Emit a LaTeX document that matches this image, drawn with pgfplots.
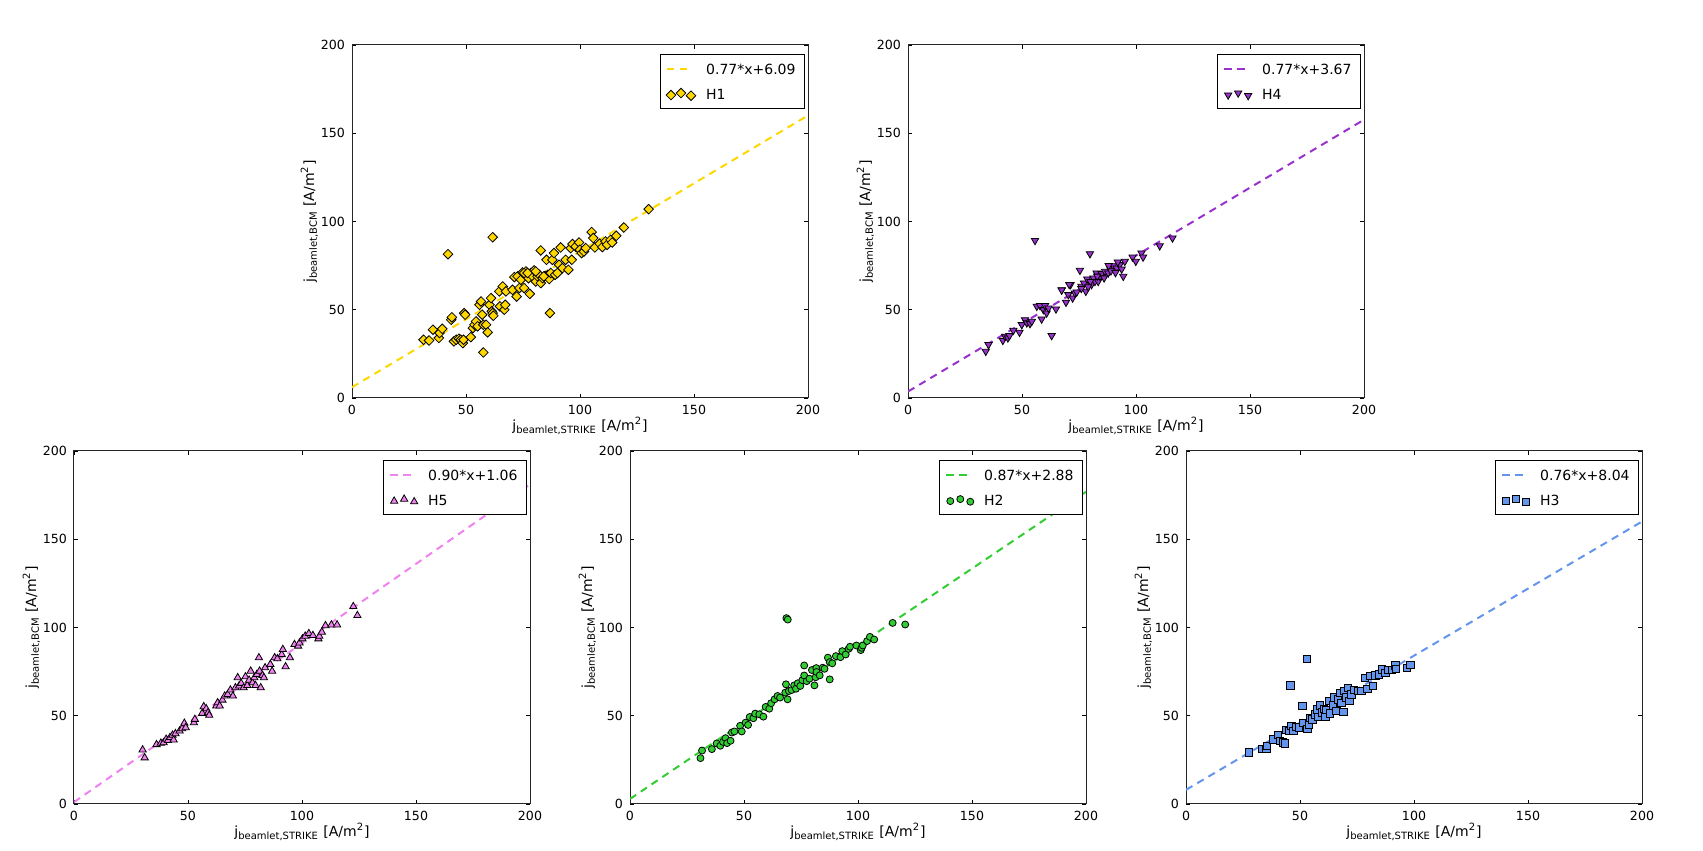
\documentclass[border=0pt]{standalone}
\usepackage{fontspec}
\setmainfont{DejaVu Sans}
\usepackage{pgfplots}
\pgfplotsset{compat=1.18}
\definecolor{cgold}{RGB}{255,215,0}
\definecolor{corchid}{RGB}{153,50,204}
\definecolor{cviolet}{RGB}{238,130,238}
\definecolor{clime}{RGB}{50,205,50}
\definecolor{ccorn}{RGB}{100,149,237}
\pgfplotsset{
 myax/.style={
  width=228pt, height=176.5pt, scale only axis, anchor=south west,
  xmin=0,xmax=200,ymin=0,ymax=200,
  xtick={0,50,...,200}, ytick={0,50,...,200},
  tick align=inside, major tick length=2pt,
  axis line style={line width=0.5pt, black!85},
  every tick/.style={black, line width=0.4pt},
  tick label style={font=\fontsize{6.3}{7}\selectfont},
  /pgf/number format/assume math mode=true,
  xlabel={j\textsubscript{beamlet,STRIKE} [A/m\textsuperscript{2}]},
  ylabel={j\textsubscript{beamlet,BCM} [A/m\textsuperscript{2}]},
  label style={font=\fontsize{7}{8}\selectfont},
  xlabel style={at={(axis description cs:0.5,-0.08)}, anchor=center},
  ylabel style={at={(axis description cs:-0.0936,0.5)}, anchor=center},
  legend cell align=left,
  legend style={at={(0.992,0.9745)}, anchor=north east, draw=black, fill=white,
    font=\fontsize{7}{8}\selectfont, inner xsep=3pt, inner ysep=1.2pt, row sep=1pt,
    nodes={inner sep=1.2pt, text depth=0.2em, text height=0.75em},
    /tikz/every odd column/.append style={column sep=4pt}},
 },
 fitline/.style={line width=1pt, dash pattern=on 3.7pt off 2.8pt, #1,
   legend image code/.code={\draw[##1] (0pt,0pt) -- (11.5pt,0pt);}},
 scat/.style={only marks, mark options={draw=black!75, line width=0.3pt},
   legend image code/.code={\draw[##1] plot[only marks] coordinates {(2pt,-0.3pt) (7pt,0.7pt) (12pt,-0.6pt)};}},
}
\begin{document}
\begin{tikzpicture}
\path[use as bounding box] (0,0) rectangle (851.5pt,425.5pt);

% ---------- H1 (top left)
\begin{axis}[myax, at={(176pt,226.5pt)}]
\addplot[fitline=cgold] coordinates {(0,6.09) (200,160.09)};
\addlegendentry{0.77*x+6.09}
\addplot[scat, mark=square*, mark size=1.7pt, mark options={rotate=45, fill=cgold}] coordinates {
(31.4,33.0)(33.8,32.6)(35.5,38.7)(38.1,34.0)(38.4,36.8)(39.6,39.2)(42.1,81.5)(43.5,44.3)
(43.8,45.7)(44.7,32.1)(45.7,33.0)(46.9,33.6)(47.7,33.0)(48.6,31.1)(49.2,48.1)(49.6,47.2)
(48.9,33.0)(52.1,34.5)(53.0,39.6)(53.7,41.5)(54.4,43.4)(55.1,40.6)(55.9,52.8)(56.6,54.7)
(57.1,47.2)(57.6,41.5)(57.6,25.8)(58.8,41.5)(59.5,37.2)(60.3,52.8)(61.0,56.6)(61.3,49.1)
(61.7,48.1)(61.7,91.1)(62.0,46.6)(64.6,60.4)(64.9,51.9)(66.1,63.2)(66.8,50.0)(67.2,52.8)
(67.5,60.4)(70.4,61.3)(71.2,68.5)(72.2,57.5)(72.6,68.9)(73.4,62.3)(74.1,67.0)(74.8,71.1)
(75.5,62.3)(76.3,71.7)(77.4,67.9)(78.0,59.0)(78.5,70.8)(79.2,68.9)(79.9,72.3)(80.6,66.0)
(81.4,68.9)(82.1,69.8)(82.8,83.6)(82.8,65.1)(83.6,67.9)(84.7,69.2)(85.3,78.3)(85.9,69.8)
(86.5,67.4)(86.8,48.1)(87.2,70.8)(87.9,78.3)(88.6,82.1)(89.1,69.8)(90.1,70.8)(90.8,75.5)
(91.5,85.3)(92.3,73.6)(93.7,78.3)(94.9,72.6)(95.9,84.9)(96.4,78.3)(96.7,87.2)(98.1,85.8)
(99.6,88.1)(99.9,84.0)(100.7,82.1)(101.7,83.0)(102.5,84.9)(105.1,94.0)(105.8,90.6)(106.5,85.3)
(108.6,87.4)(109.8,85.5)(111.2,88.7)(111.9,86.8)(113.4,89.6)(114.1,88.1)(115.9,91.9)(119.2,96.6)
(130.1,107.0)(75.5,70.8)(77.0,70.8)(80.6,71.7)(84.1,68.9)
};
\addlegendentry{H1}
\end{axis}

% ---------- H4 (top right)
\begin{axis}[myax, at={(454pt,226.5pt)}]
\addplot[fitline=corchid] coordinates {(0,3.67) (200,157.67)};
\addlegendentry{0.77*x+3.67}
\addplot[scat, mark=triangle*, mark size=2.1pt, mark options={rotate=180, fill=corchid}] coordinates {
(34.1,26.4)(35.3,30.2)(41.6,32.6)(42.6,34.9)(43.8,34.0)(44.5,35.3)(46.2,38.3)(48.9,37.2)
(49.9,41.5)(51.3,44.3)(52.1,42.5)(53.5,42.1)(54.3,43.4)(55.7,89.2)(56.5,51.9)(57.9,52.3)
(58.6,44.7)(59.4,50.0)(60.1,52.3)(60.8,48.1)(61.6,50.9)(63.0,35.3)(64.9,50.4)(67.4,61.3)
(69.3,54.2)(70.3,58.5)(71.3,64.2)(72.2,56.6)(73.2,59.4)(75.4,72.3)(76.1,63.2)(77.2,65.1)
(78.0,60.4)(78.6,67.4)(79.8,81.7)(80.5,64.2)(81.3,67.9)(82.0,66.0)(82.7,70.8)(83.4,66.0)
(84.2,68.9)(84.9,70.4)(86.4,71.7)(87.8,70.8)(88.5,73.6)(90.0,74.9)(91.5,73.6)(92.9,75.5)
(93.7,73.0)(94.4,68.9)(95.1,77.4)(98.5,79.8)(99.9,77.4)(102.4,82.1)(103.1,79.8)(110.4,86.2)
(116.0,90.6)(80.0,66.0)(83.0,69.0)(86.0,68.0)(89.0,72.0)(91.0,71.0)(88.0,75.0)(92.0,77.0)
(76.0,62.0)(74.0,60.0)(79.0,63.0)(70.7,64.3)(67.4,61.1)
};
\addlegendentry{H4}
\end{axis}

% ---------- H5 (bottom left)
\begin{axis}[myax, at={(37pt,23.5pt)}]
\addplot[fitline=cviolet] coordinates {(0,1.06) (200,181.06)};
\addlegendentry{0.90*x+1.06}
\addplot[scat, mark=triangle*, mark size=2.1pt, mark options={fill=cviolet}] coordinates {
(30.1,30.7)(31.0,26.2)(36.2,33.7)(38.1,34.5)(39.3,34.8)(40.4,36.7)(41.2,36.0)(42.1,37.7)
(43.2,39.0)(43.7,36.3)(44.5,39.9)(46.3,41.4)(47.4,42.7)(48.4,45.8)(49.0,43.3)(52.6,46.1)
(53.0,48.0)(56.2,51.4)(56.9,55.2)(58.0,54.0)(58.8,51.8)(59.3,50.3)(62.4,55.6)(63.0,57.4)
(63.9,55.6)(65.1,58.9)(66.1,61.2)(67.4,62.1)(68.6,64.6)(69.7,61.2)(70.8,65.9)(71.8,71.6)
(72.4,66.9)(73.3,68.4)(74.4,65.9)(75.2,72.1)(76.0,67.2)(76.8,70.2)(77.5,75.3)(78.3,68.7)
(79.1,71.6)(79.6,67.2)(80.2,73.4)(81.1,82.9)(81.4,75.3)(81.9,65.9)(82.7,72.9)(83.3,71.6)
(83.8,77.2)(86.1,79.1)(86.9,75.3)(88.0,82.9)(89.2,82.3)(91.1,84.7)(91.6,87.6)(92.8,77.8)
(94.7,82.9)(96.7,90.4)(98.3,89.5)(98.9,91.3)(100.2,93.6)(101.4,95.1)(103.0,96.6)(104.8,95.5)
(107.2,93.6)(107.6,95.1)(108.7,97.4)(110.3,101.1)(112.9,101.5)(115.4,101.5)(122.5,111.9)(124.3,106.8)
};
\addlegendentry{H5}
\end{axis}

% ---------- H2 (bottom middle)
\begin{axis}[myax, at={(315pt,23.5pt)}]
\addplot[fitline=clime] coordinates {(0,2.88) (200,176.88)};
\addlegendentry{0.87*x+2.88}
\addplot[scat, mark=*, mark size=1.75pt, mark options={fill=clime}] coordinates {
(30.9,26.0)(31.6,30.3)(35.9,31.1)(38.0,34.3)(39.6,33.0)(40.8,35.2)(41.9,37.3)(42.6,34.5)
(44.1,35.8)(44.7,40.5)(45.8,41.1)(48.3,44.3)(49.0,41.1)(50.7,46.1)(51.8,44.8)(52.5,49.3)
(54.1,48.6)(54.9,51.2)(56.7,50.8)(58.5,49.5)(59.5,55.0)(61.1,54.0)(61.9,57.1)(63.4,59.3)
(64.7,61.2)(65.8,60.3)(68.1,63.1)(68.4,67.8)(68.6,105.3)(69.2,104.5)(69.1,59.3)(69.7,64.0)
(70.9,64.6)(72.0,67.2)(72.8,65.3)(73.6,68.4)(74.7,66.9)(75.6,70.2)(76.4,72.8)(76.4,78.5)
(77.5,69.6)(78.7,71.0)(79.8,75.9)(80.9,67.2)(81.4,71.8)(81.7,77.0)(81.8,74.8)(83.2,72.9)
(84.5,77.2)(85.3,76.6)(86.8,82.9)(87.6,70.6)(87.6,80.4)(88.7,79.7)(90.3,83.8)(92.3,83.2)
(93.1,86.6)(94.6,84.7)(95.9,87.9)(96.5,89.1)(99.3,89.8)(101.2,87.2)(101.6,88.5)(102.1,89.8)
(104.0,92.3)(105.2,94.7)(107.1,93.2)(115.2,102.6)(120.7,101.7)
};
\addlegendentry{H2}
\end{axis}

% ---------- H3 (bottom right)
\begin{axis}[myax, at={(593pt,23.5pt)}]
\addplot[fitline=ccorn] coordinates {(0,8.04) (200,160.04)};
\addlegendentry{0.76*x+8.04}
\addplot[scat, mark=square*, mark size=1.85pt, mark options={fill=ccorn}] coordinates {
(27.5,29.2)(33.4,31.1)(35.3,31.1)(35.6,33.0)(38.1,36.7)(40.3,39.2)(41.3,35.8)(42.4,34.8)
(43.5,34.3)(43.9,42.0)(45.2,41.4)(45.8,67.2)(46.3,44.3)(47.1,41.4)(48.2,43.7)(49.4,43.3)
(51.0,55.6)(51.3,46.1)(52.9,82.3)(53.3,42.7)(53.8,45.2)(54.4,48.8)(55.4,48.0)(56.5,50.8)
(57.3,53.5)(58.0,49.5)(58.8,55.9)(59.6,51.8)(60.4,54.0)(61.2,49.5)(61.6,53.3)(62.7,58.3)
(63.2,51.4)(64.3,55.9)(65.1,60.3)(65.9,52.7)(66.7,59.3)(67.5,63.1)(68.2,57.2)(69.0,52.2)
(69.5,64.0)(70.1,60.3)(71.1,65.9)(71.7,58.3)(72.6,62.1)(73.7,64.6)(75.3,64.0)(76.9,64.0)
(78.4,71.6)(79.5,65.3)(80.8,72.5)(82.0,66.9)(83.1,72.9)(84.7,73.4)(85.8,76.3)(87.4,74.4)
(88.6,75.9)(90.2,75.9)(91.8,78.5)(92.1,76.6)(96.8,77.2)(98.4,78.9)
};
\addlegendentry{H3}
\end{axis}
\end{tikzpicture}
\end{document}
